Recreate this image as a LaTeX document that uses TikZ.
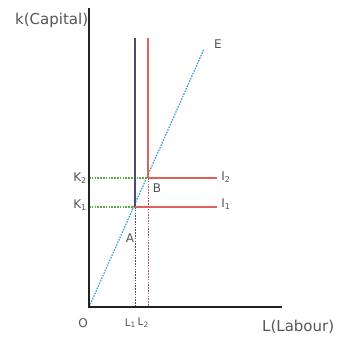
\documentclass[tikz,border=0pt]{standalone}
\usepackage{fontspec}
\setmainfont{DejaVu Sans}
\definecolor{axisgray}{HTML}{222222}
\definecolor{txtgray}{HTML}{555555}
\definecolor{isoblue}{HTML}{4A4A78}
\definecolor{isored}{HTML}{E0605A}
\definecolor{rayblue}{HTML}{3A9FD0}
\definecolor{guidegreen}{HTML}{5DAA45}
\begin{document}
\begin{tikzpicture}[x=1pt,y=-1pt,>=stealth]
\useasboundingbox (0,0) rectangle (339,337);
\tikzset{lbl/.style={text=txtgray,font=\fontsize{12}{13}\selectfont,inner sep=0pt},
  smalllbl/.style={text=txtgray,font=\fontsize{10.5}{12}\selectfont,inner sep=0pt},
  biglbl/.style={text=txtgray,font=\fontsize{15}{16}\selectfont,inner sep=0pt},
  dots/.style={dash pattern=on 1.6pt off 1.2pt}}
\coordinate (O) at (89,307);
\coordinate (Ytop) at (89,8);
\coordinate (Xend) at (282,307);
\coordinate (A) at (135,207);
\coordinate (B) at (148,178);
\coordinate (E) at (204,49);
\coordinate (L1top) at (135,38);
\coordinate (L2top) at (148,38);
\coordinate (L1) at (135,307);
\coordinate (L2) at (148,307);
\coordinate (K1) at (89,207);
\coordinate (K2) at (89,178);
\coordinate (I1end) at (217,207);
\coordinate (I2end) at (217,178);
% expansion path
\draw[rayblue,line width=1.2pt,dots] (O)--(E);
% guides
\draw[guidegreen,line width=1.2pt,dots] (K2)--(B);
\draw[guidegreen,line width=1.2pt,dots] (K1)--(A);
\draw[isoblue,line width=1pt,dots] (A)--(L1);
\draw[isored!70!isoblue,line width=1pt,dots] (B)--(L2);
% isoquant arms
\draw[isoblue,line width=1.2pt] (L1top)--(A);
\draw[isored,line width=1.2pt] (L2top)--(B);
\draw[isored,line width=1.5pt] (A)--(I1end);
\draw[isored,line width=1.5pt] (B)--(I2end);
% axes
\draw[axisgray,line width=1.6pt] (Ytop)--(O)--(Xend);
% labels
\node[biglbl,anchor=west] (ylab) at (15,20) {k(Capital)};
\node[biglbl,anchor=west] (xlab) at (262,327) {L(Labour)};
\node[lbl] (Olab) at (83,323) {O};
\node[smalllbl,anchor=east] (L1lab) at (136,323) {L\textsubscript{1}};
\node[smalllbl,anchor=west] (L2lab) at (137.5,323) {L\textsubscript{2}};
\node[lbl] (K1lab) at (80,205) {K\textsubscript{1}};
\node[lbl] (K2lab) at (80,178) {K\textsubscript{2}};
\node[lbl] (Alab) at (130,238) {A};
\node[lbl] (Blab) at (157,188) {B};
\node[lbl] (Elab) at (218,44) {E};
\node[lbl] (I1lab) at (226,204) {I\textsubscript{1}};
\node[lbl] (I2lab) at (226,177) {I\textsubscript{2}};
\end{tikzpicture}
\end{document}
